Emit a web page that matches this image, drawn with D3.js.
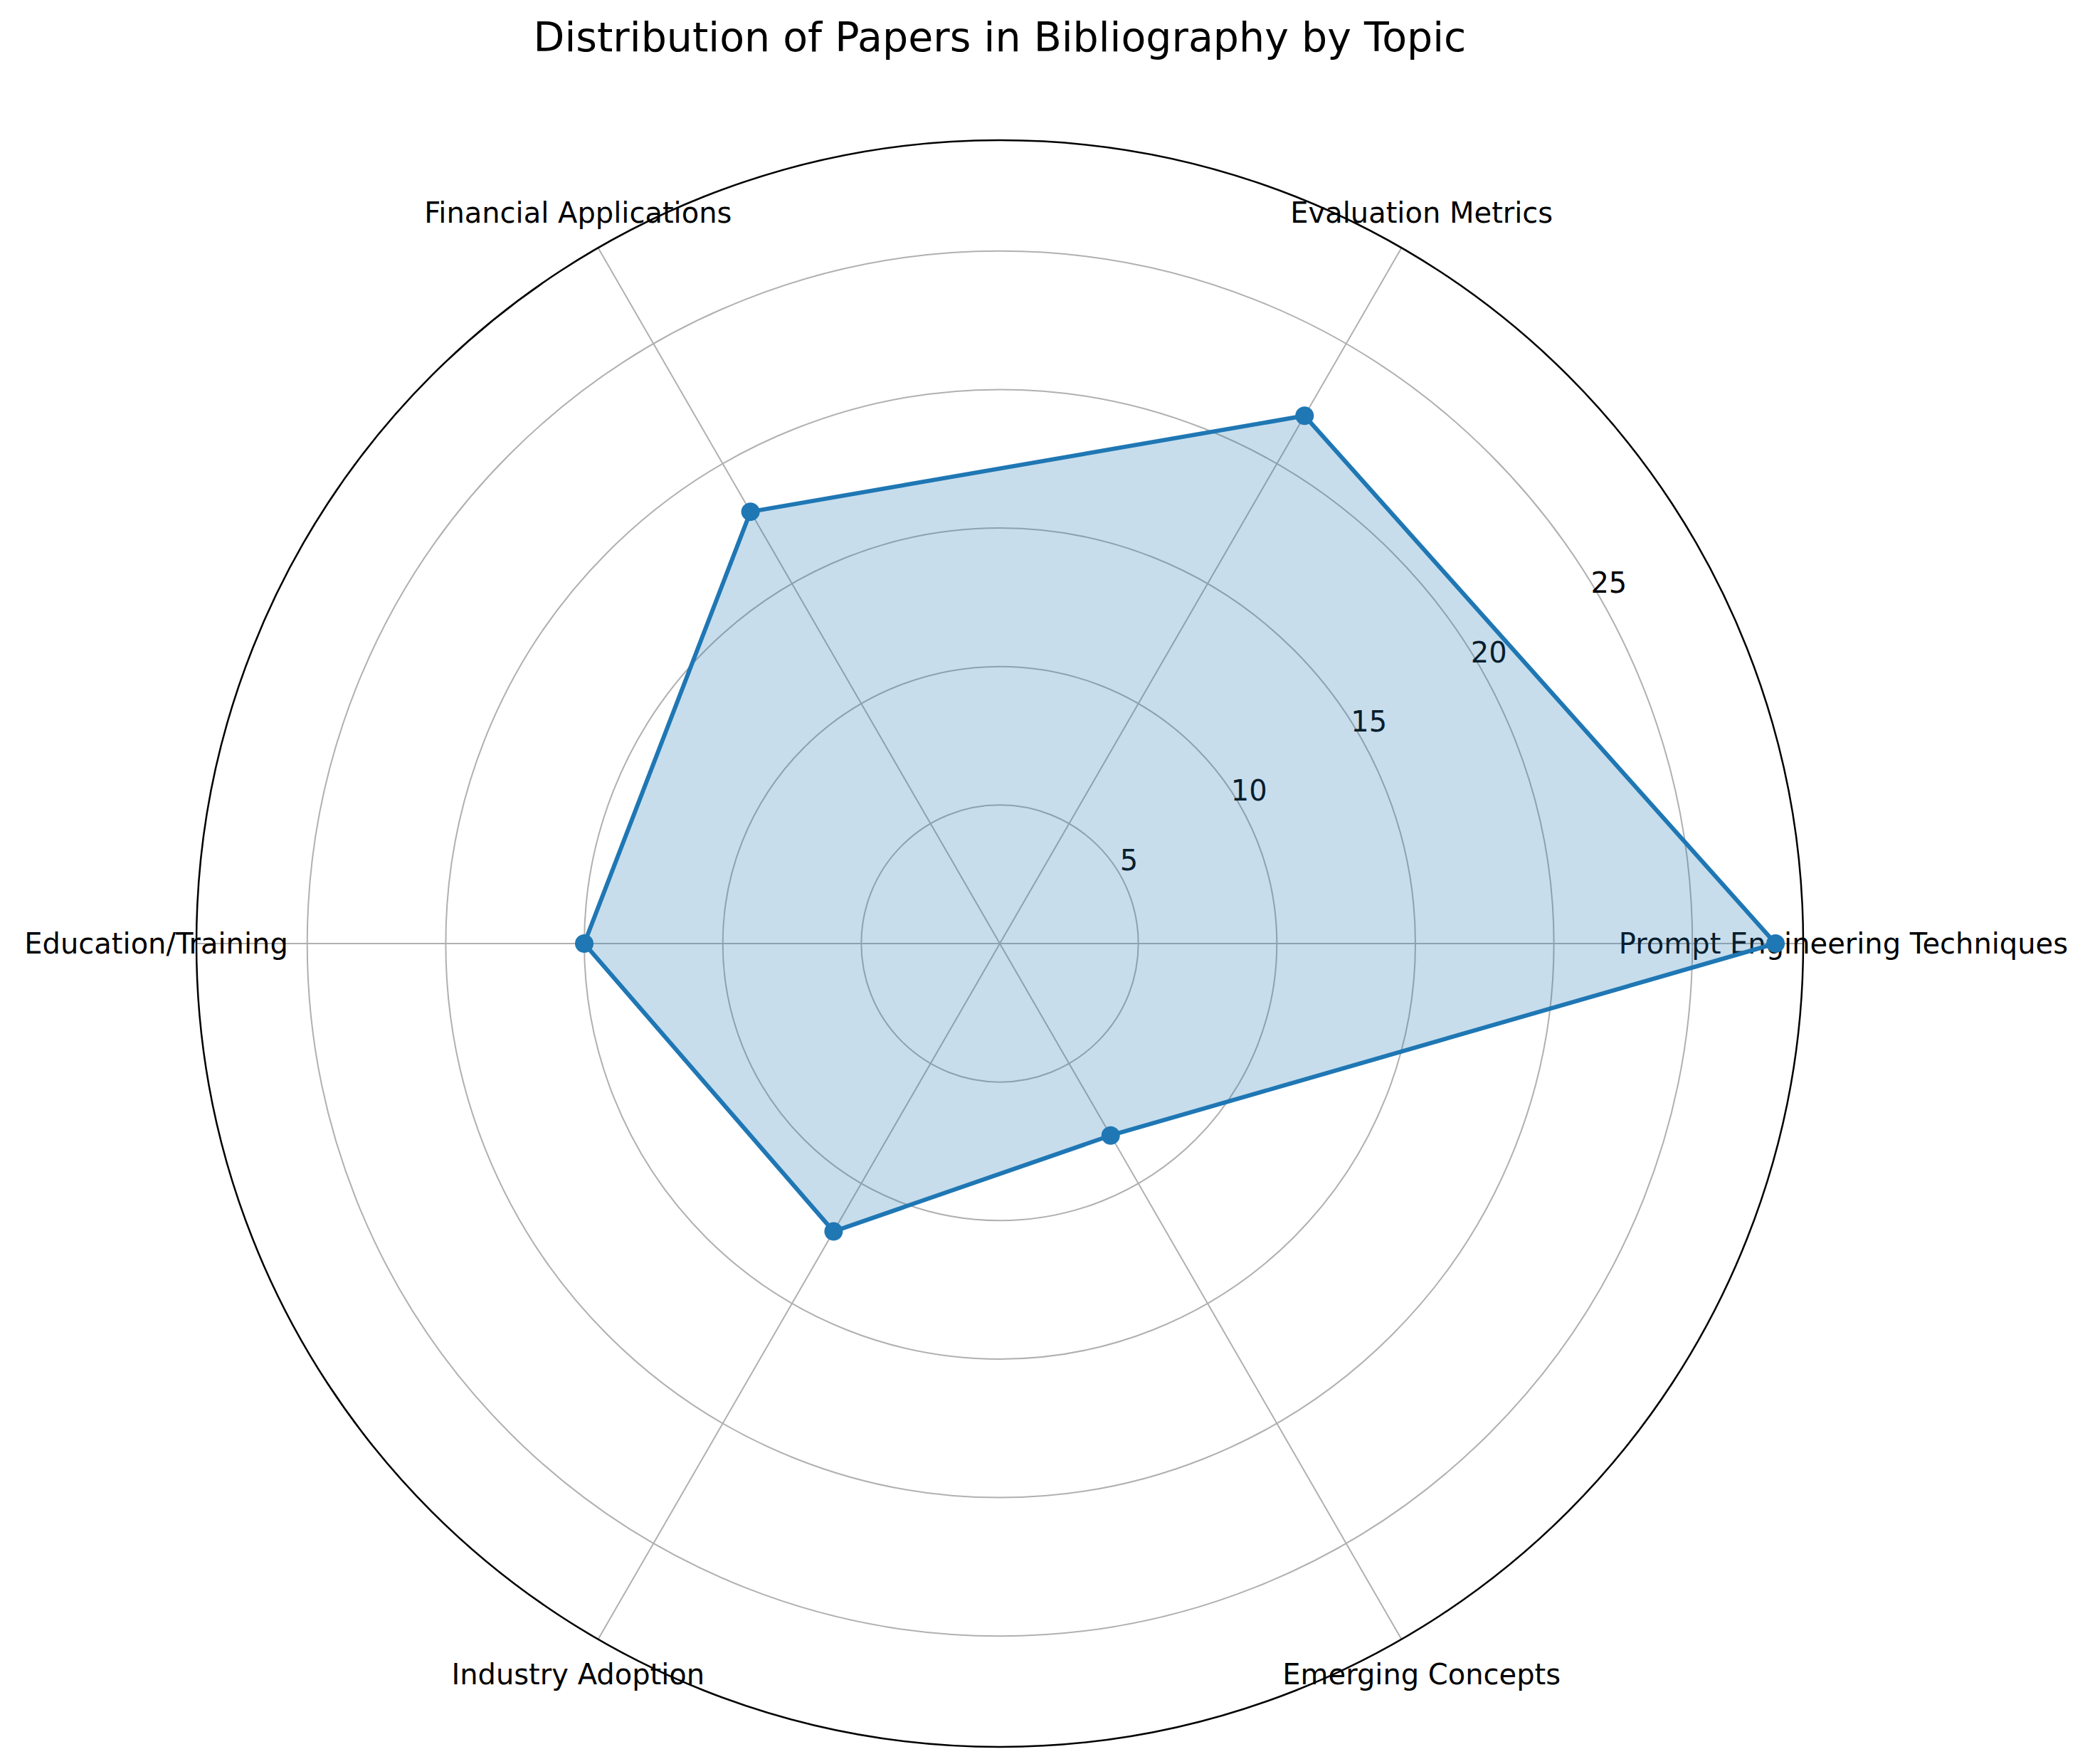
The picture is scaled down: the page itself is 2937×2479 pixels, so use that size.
<!DOCTYPE html>
<html><head><meta charset="utf-8">
<script src="https://cdn.jsdelivr.net/npm/d3@7"></script>
<style>body{margin:0;background:#fff}</style></head>
<body><svg id="c" width="2937" height="2479"></svg>
<script>
const categories=["Prompt Engineering Techniques","Evaluation Metrics","Financial Applications","Education/Training","Industry Adoption","Emerging Concepts"];
const values=[28,22,18,15,12,8];
const ticks=[5,10,15,20,25];
const rMaxVal=29;
const svg=d3.select("#c");
const cx=1405,cy=1326,R=1129;
const font="DejaVu Sans";
const r=d3.scaleLinear().domain([0,rMaxVal]).range([0,R]);
const ang=i=>-i*2*Math.PI/categories.length;
const g=svg.append("g").attr("transform",`translate(${cx},${cy})`);
ticks.forEach(t=>g.append("circle").attr("r",r(t)).attr("fill","none").attr("stroke","#b0b0b0").attr("stroke-width",2));
categories.forEach((c,i)=>{
  const a=ang(i);
  g.append("line").attr("x1",0).attr("y1",0).attr("x2",R*Math.cos(a)).attr("y2",R*Math.sin(a)).attr("stroke","#b0b0b0").attr("stroke-width",2);
  g.append("text").attr("x",1.05*R*Math.cos(a)).attr("y",1.05*R*Math.sin(a)).attr("text-anchor","middle").attr("dominant-baseline","central").attr("font-family",font).attr("font-size",40).text(c);
});
g.append("circle").attr("r",R).attr("fill","none").attr("stroke","#000").attr("stroke-width",2.5);
const ta=-30*Math.PI/180;
ticks.forEach(t=>g.append("text").attr("x",r(t)*Math.cos(ta)+13).attr("y",r(t)*Math.sin(ta)-20).attr("text-anchor","middle").attr("dominant-baseline","central").attr("font-family",font).attr("font-size",40).text(t));
const pts=values.map((v,i)=>[r(v)*Math.cos(ang(i)),r(v)*Math.sin(ang(i))]);
g.append("path").attr("d",d3.line()(pts)+"Z").attr("fill","#1f77b4").attr("fill-opacity",0.25).attr("stroke","#1f77b4").attr("stroke-width",6).attr("stroke-linejoin","round");
pts.forEach(p=>g.append("circle").attr("cx",p[0]).attr("cy",p[1]).attr("r",13).attr("fill","#1f77b4"));
svg.append("text").attr("x",cx).attr("y",72).attr("text-anchor","middle").attr("font-family",font).attr("font-size",57).text("Distribution of Papers in Bibliography by Topic");
</script></body></html>
